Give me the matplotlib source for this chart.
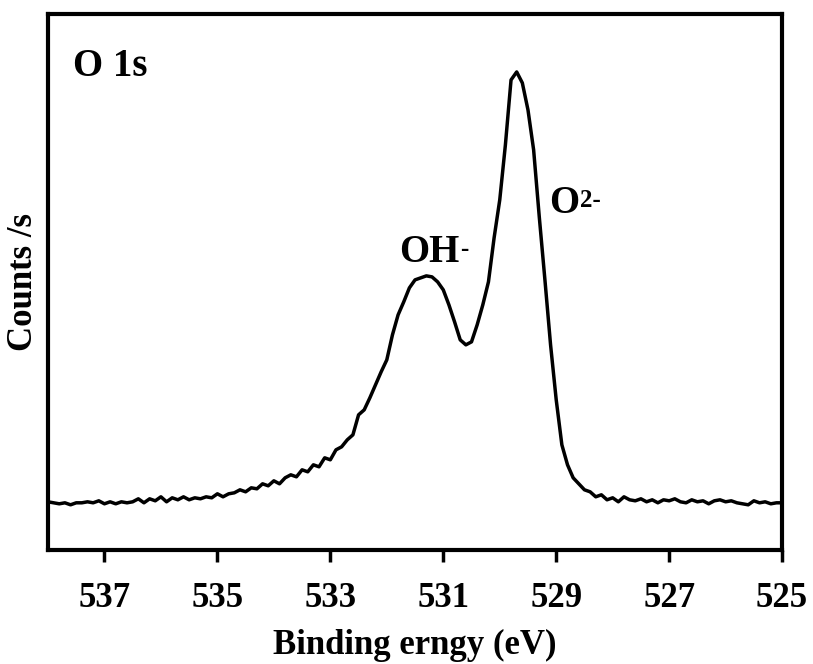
import matplotlib
matplotlib.use("Agg")
import matplotlib.pyplot as plt

# Binding energy (eV) and intensity (arbitrary counts)
energy = [538.0, 537.9, 537.8, 537.7, 537.6, 537.5, 537.4, 537.3, 537.2, 537.1,
          537.0, 536.9, 536.8, 536.7, 536.6, 536.5, 536.4, 536.3, 536.2, 536.1,
          536.0, 535.9, 535.8, 535.7, 535.6, 535.5, 535.4, 535.3, 535.2, 535.1,
          535.0, 534.9, 534.8, 534.7, 534.6, 534.5, 534.4, 534.3, 534.2, 534.1,
          534.0, 533.9, 533.8, 533.7, 533.6, 533.5, 533.4, 533.3, 533.2, 533.1,
          533.0, 532.9, 532.8, 532.7, 532.6, 532.5, 532.4, 532.3, 532.2, 532.1,
          532.0, 531.9, 531.8, 531.7, 531.6, 531.5, 531.4, 531.3, 531.2, 531.1,
          531.0, 530.9, 530.8, 530.7, 530.6, 530.5, 530.4, 530.3, 530.2, 530.1,
          530.0, 529.9, 529.8, 529.7, 529.6, 529.5, 529.4, 529.3, 529.2, 529.1,
          529.0, 528.9, 528.8, 528.7, 528.6, 528.5, 528.4, 528.3, 528.2, 528.1,
          528.0, 527.9, 527.8, 527.7, 527.6, 527.5, 527.4, 527.3, 527.2, 527.1,
          527.0, 526.9, 526.8, 526.7, 526.6, 526.5, 526.4, 526.3, 526.2, 526.1,
          526.0, 525.9, 525.8, 525.7, 525.6, 525.5, 525.4, 525.3, 525.2, 525.1,
          525.0]
counts = [48, 47, 46, 47, 45, 47, 47, 48, 47, 49,
          46, 48, 46, 48, 47, 48, 51, 47, 51, 49,
          53, 48, 52, 50, 53, 50, 52, 51, 53, 52,
          56, 53, 56, 57, 60, 58, 62, 61, 66, 64,
          69, 66, 72, 75, 73, 80, 78, 85, 83, 92,
          90, 100, 103, 110, 115, 135, 140, 152, 165, 178,
          190, 215, 235, 248, 262, 270, 272, 274, 273, 268,
          260, 245, 228, 210, 205, 208, 225, 245, 268, 312,
          350, 405, 470, 478, 467, 440, 400, 333, 270, 205,
          150, 105, 85, 72, 66, 60, 58, 53, 55, 50,
          52, 48, 53, 50, 49, 51, 48, 50, 47, 50,
          49, 51, 48, 47, 50, 48, 49, 46, 49, 50,
          48, 49, 47, 46, 45, 49, 47, 48, 46, 47,
          47]

xticks = [537, 535, 533, 531, 529, 527, 525]

plt.rcParams['font.family'] = ['Liberation Serif', 'DejaVu Serif']
plt.rcParams['font.weight'] = 'bold'

fig = plt.figure(figsize=(8.13, 6.64), dpi=100)
ax = fig.add_axes([0.059, 0.172, 0.903, 0.807])

ax.plot(energy, counts, color='black', lw=2.5)
ax.set_xlim(538.0, 525.0)
ax.set_ylim(0, 536)
ax.set_xticks(xticks)
ax.set_xticklabels([str(t) for t in xticks], fontsize=25, fontweight='bold')
ax.set_yticks([])
ax.tick_params(axis='x', direction='out', length=8.5, width=2.5, pad=15)
for s in ax.spines.values():
    s.set_linewidth(3)

ax.set_xlabel('Binding erngy (eV)', fontsize=25, fontweight='bold', labelpad=10)
ax.set_ylabel('Counts /s', fontsize=25, fontweight='bold', labelpad=6)

ax.text(537.55, 474, 'O 1s', fontsize=28, fontweight='bold', ha='left', va='baseline')

t1 = ax.text(531.78, 288, 'OH', fontsize=28, fontweight='bold', ha='left', va='baseline')
ax.annotate('-', xy=(1, 1), xycoords=t1, xytext=(0.5, -3), textcoords='offset points',
            fontsize=18, fontweight='bold', ha='left', va='top')
t2 = ax.text(529.12, 337, 'O', fontsize=28, fontweight='bold', ha='left', va='baseline')
ax.annotate('2-', xy=(1, 1), xycoords=t2, xytext=(0.5, -3), textcoords='offset points',
            fontsize=18, fontweight='bold', ha='left', va='top')

fig.savefig('out.png', dpi=100)
